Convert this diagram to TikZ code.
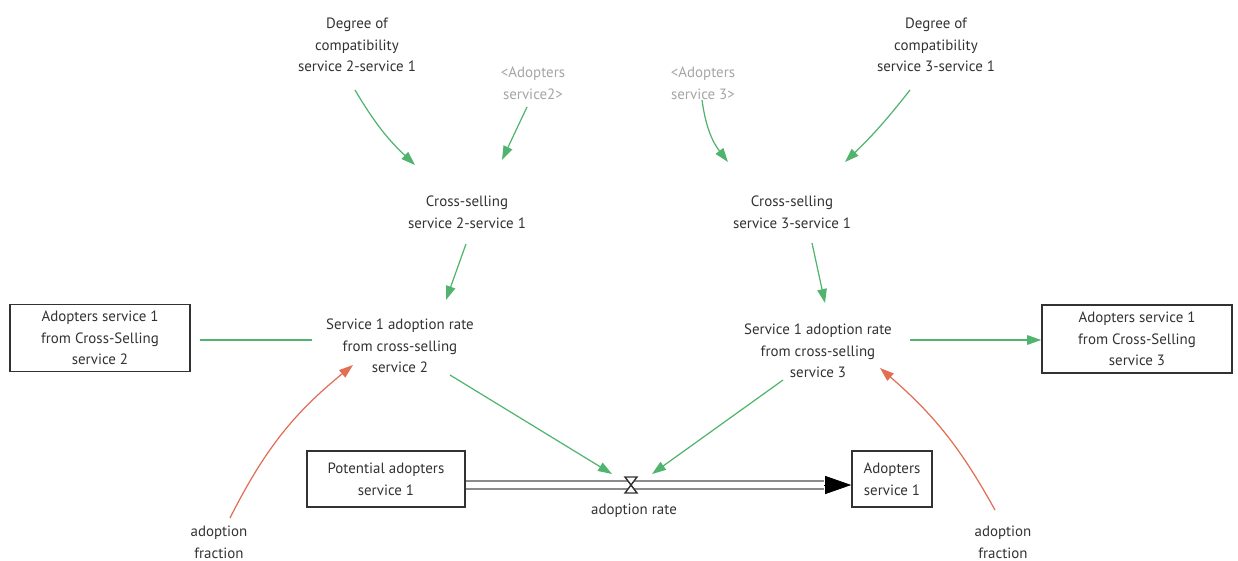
\documentclass[tikz,border=0pt]{standalone}
\usepackage{fontspec}
\setmainfont{PT Sans}
\usetikzlibrary{arrows.meta}
\definecolor{lnkgreen}{RGB}{80,180,110}
\definecolor{lnkred}{RGB}{225,110,85}
\definecolor{txtgray}{RGB}{50,50,50}
\definecolor{shdgray}{RGB}{165,165,165}
\begin{document}
\begin{tikzpicture}[x=0.02cm, y=-0.02cm, font=\fontsize{8.5}{12.3}\selectfont]
\tikzstyle{var}=[align=center, text=txtgray, inner sep=1pt]
\tikzstyle{shadowvar}=[var, text=shdgray]
\tikzstyle{stock}=[var, draw=txtgray, line width=0.9pt, inner sep=0pt]
\tikzstyle{link}=[lnkgreen, line width=0.7pt, -{Triangle[length=0.28cm, width=0.19cm]}]
\tikzstyle{redlink}=[link, lnkred]
\useasboundingbox (0,0) rectangle (1238,561);
% auxiliaries
\node[var] (deg2) at (357,45) {Degree of\\compatibility\\service 2-service 1};
\node[shadowvar] (adp2) at (533,83) {<Adopters\\service2>};
\node[shadowvar] (adp3) at (703,83) {<Adopters\\service 3>};
\node[var] (deg3) at (936,45) {Degree of\\compatibility\\service 3-service 1};
\node[var] (cs2) at (467,212) {Cross-selling\\service 2-service 1};
\node[var] (cs3) at (792,212) {Cross-selling\\service 3-service 1};
\node[var] (rate2) at (400,346) {Service 1 adoption rate\\from cross-selling\\service 2};
\node[var] (rate3) at (818,351) {Service 1 adoption rate\\from cross-selling\\service 3};
\node[var] (frac2) at (219,542) {adoption\\fraction};
\node[var] (frac3) at (1003,542) {adoption\\fraction};
% stocks
\node[stock, minimum width=3.6cm, minimum height=1.34cm] (cross2) at (100,338) {Adopters service 1\\from Cross-Selling\\service 2};
\node[stock, minimum width=3.8cm, minimum height=1.36cm] (cross3) at (1137,339) {Adopters service 1\\from Cross-Selling\\service 3};
\node[stock, minimum width=3.16cm, minimum height=1.12cm] (pot) at (386,479) {Potential adopters\\service 1};
\node[stock, minimum width=1.6cm, minimum height=1.12cm] (adopt) at (892,479) {Adopters\\service 1};
% flow
\coordinate (valve) at (631,485);
\coordinate (tip) at (824,485);
\draw[double=white, double distance=3.5pt, draw=gray!90, line width=1pt] (pot.east |- valve) -- (tip);
\draw[black, -{Triangle[length=0.52cm, width=0.36cm]}] (tip) -- (adopt.west |- valve);
\draw[txtgray, fill=white, line width=0.8pt] (625,477) -- (637,477) -- (625,493) -- (637,493) -- cycle;
\node[var] (rate) at (634,511) {adoption rate};
% links
\draw[link] (355,90) to[bend right=8] (415,165);
\draw[link] (527,107) -- (502,160);
\draw[link] (702,100) to[bend right=15] (728,162);
\draw[link] (910,90) to[bend left=4] (845,162);
\draw[link] (466,244) -- (446,300);
\draw[link] (812,243) -- (825,303);
\draw[lnkgreen, line width=0.7pt] (200,340) -- (312,340);
\draw[link] (910,340) -- (cross3.west |- 0,340);
\draw[link] (450,375) -- (612,474);
\draw[link] (783,380) -- (652,474);
\draw[redlink] (230,518) to[bend left=12] (353,365);
\draw[redlink] (995,510) to[bend right=10] (880,368);
\end{tikzpicture}
\end{document}
